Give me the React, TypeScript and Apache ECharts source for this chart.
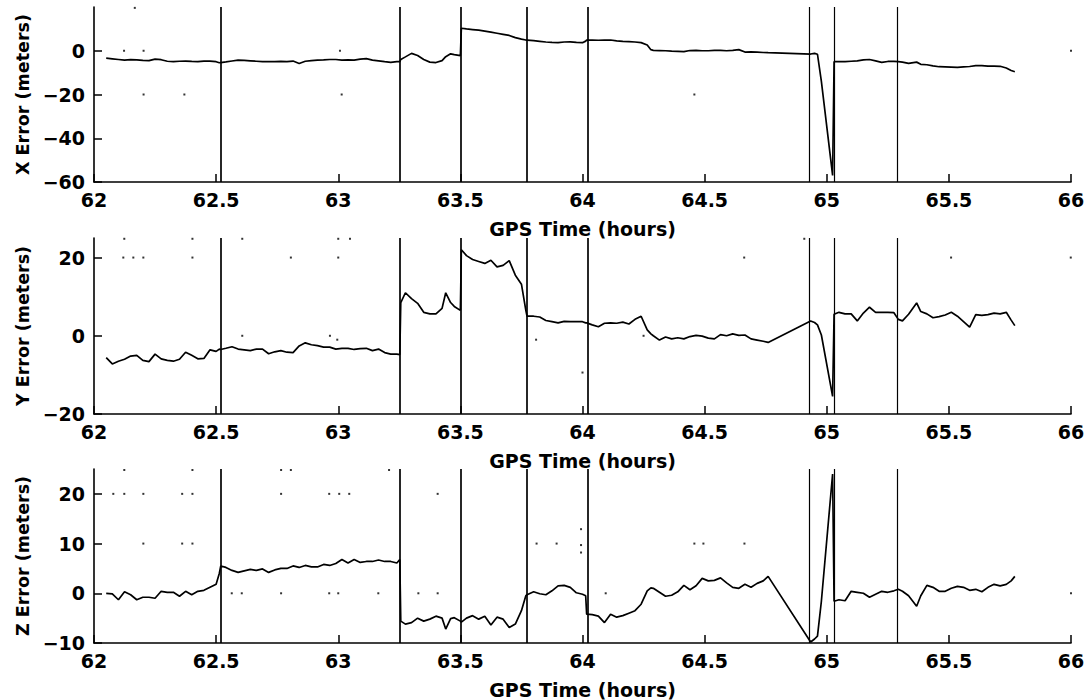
import React, { useEffect, useRef } from 'react';
import * as echarts from 'echarts';

// GPS time samples (hours)
const hours = [
  62.050, 62.075, 62.100, 62.125, 62.150, 62.175, 62.200, 62.225, 62.250, 62.275,
  62.300, 62.325, 62.350, 62.375, 62.400, 62.425, 62.450, 62.475, 62.500, 62.513,
  62.519, 62.540, 62.565, 62.590, 62.615, 62.640, 62.665, 62.690, 62.715, 62.740,
  62.765, 62.790, 62.815, 62.840, 62.865, 62.890, 62.915, 62.940, 62.965, 62.990,
  63.015, 63.040, 63.065, 63.090, 63.115, 63.140, 63.165, 63.190, 63.215, 63.240, 63.252,
  63.256, 63.275, 63.300, 63.325, 63.350, 63.375, 63.400, 63.425, 63.440, 63.460, 63.475, 63.500,
  63.504, 63.525, 63.550, 63.575, 63.600, 63.625, 63.650, 63.675, 63.700, 63.725, 63.750, 63.768,
  63.773, 63.800, 63.825, 63.850, 63.875, 63.900, 63.925, 63.950, 63.975, 64.000, 64.013,
  64.017, 64.040, 64.065, 64.090, 64.115, 64.140, 64.165, 64.190, 64.215, 64.240,
  64.265, 64.280, 64.290, 64.315, 64.340, 64.365, 64.390, 64.415, 64.440, 64.465,
  64.490, 64.515, 64.540, 64.565, 64.590, 64.615, 64.640, 64.665, 64.690, 64.715, 64.740, 64.760,
  64.934, 64.950, 64.962, 64.978, 65.024,
  65.030, 65.050, 65.075, 65.100, 65.125, 65.150, 65.175, 65.200, 65.225, 65.250,
  65.275, 65.293, 65.310, 65.335, 65.368, 65.385, 65.410, 65.435, 65.460, 65.485,
  65.510, 65.535, 65.560, 65.585, 65.610, 65.635, 65.660, 65.685, 65.710, 65.735, 65.755, 65.770,
];

const xError = [
  -3.4, -3.7, -4.0, -4.3, -4.1, -4.2, -4.4, -4.5, -3.8, -4.1,
  -4.8, -5.0, -4.8, -4.7, -4.9, -5.0, -4.7, -4.7, -5.0, -5.5,
  -5.4, -5.1, -4.7, -4.3, -4.4, -4.6, -4.8, -5.0, -5.0, -5.0,
  -4.9, -5.0, -4.7, -5.8, -4.8, -4.5, -4.3, -4.2, -4.0, -4.0,
  -4.3, -4.2, -4.3, -3.8, -3.6, -4.3, -4.6, -5.0, -5.3, -5.0, -5.0,
  -4.0, -2.8, -1.2, -2.2, -4.0, -5.2, -5.4, -4.5, -2.7, -1.4, -1.8, -2.2,
  10.3, 10.0, 9.7, 9.4, 9.0, 8.5, 8.0, 7.5, 7.0, 6.0, 5.3, 4.9,
  4.9, 4.6, 4.3, 4.0, 3.8, 3.7, 4.0, 4.1, 3.8, 3.7, 4.4,
  4.9, 4.9, 4.8, 4.9, 4.9, 4.5, 4.3, 4.2, 4.0, 3.7,
  2.6, 0.5, 0.2, 0.1, 0.0, -0.2, -0.3, -0.4, 0.1, 0.2,
  0.0, 0.0, 0.2, 0.2, 0.0, 0.2, 0.5, -0.6, -0.5, -0.6, -0.8, -0.9,
  -1.5, -1.2, -1.6, -14.0, -57.0,
  -5.0, -5.0, -5.0, -4.8, -4.6, -4.2, -4.0, -4.6, -5.3, -4.9,
  -4.9, -5.0, -5.2, -5.8, -5.2, -6.2, -6.4, -6.9, -7.3, -7.4,
  -7.5, -7.6, -7.4, -7.2, -6.8, -6.8, -7.0, -7.0, -7.1, -7.9, -9.0, -9.6,
];

const yError = [
  -5.6, -7.2, -6.5, -6.0, -5.2, -5.0, -6.3, -6.6, -4.7, -5.9,
  -6.3, -6.5, -6.0, -4.2, -5.0, -5.9, -5.8, -3.6, -4.0, -3.4,
  -3.5, -3.2, -2.8, -3.4, -3.6, -3.8, -3.4, -3.4, -4.6, -4.1,
  -3.8, -4.2, -4.3, -2.6, -1.8, -2.3, -2.5, -2.9, -2.9, -3.4,
  -3.2, -3.2, -3.5, -3.3, -3.2, -3.8, -3.4, -4.3, -4.7, -4.7, -4.8,
  8.5, 11.0, 9.5, 8.3, 6.0, 5.6, 5.6, 7.0, 11.0, 8.5, 7.5, 6.5,
  22.0, 20.5, 19.5, 19.0, 18.5, 19.3, 17.6, 18.0, 19.2, 15.5, 13.2, 6.5,
  5.0, 5.0, 4.8, 3.9, 3.6, 3.3, 3.7, 3.6, 3.6, 3.6, 3.3,
  3.3, 2.8, 2.3, 3.2, 3.3, 3.2, 3.5, 3.0, 4.2, 5.0,
  1.5, 0.5, 0.0, -1.1, -0.3, -0.8, -0.5, -0.8, -0.2, 0.1,
  -0.1, -0.6, -0.8, 0.3, 0.0, 0.5, 0.1, 0.2, -0.8, -1.1, -1.4, -1.7,
  3.8, 3.4, 2.8, 0.2, -15.5,
  5.5, 6.0, 5.6, 5.6, 3.8, 5.8, 7.3, 6.0, 6.0, 6.0,
  5.9, 4.2, 3.8, 5.5, 8.4, 6.2, 5.6, 4.6, 4.9, 5.3,
  6.0, 5.0, 3.6, 2.2, 5.4, 5.2, 5.4, 5.8, 5.6, 6.0, 4.0, 2.6,
];

const zError = [
  0.0, -0.1, -1.3, 0.3, -0.3, -1.3, -0.8, -0.8, -1.0, 0.4,
  0.2, 0.2, -0.6, 0.4, -0.3, 0.4, 0.6, 1.2, 1.8, 4.0,
  5.5, 5.2, 4.6, 4.2, 4.5, 4.8, 4.6, 4.9, 4.2, 4.7,
  5.0, 5.0, 5.5, 5.2, 5.6, 5.3, 5.3, 5.8, 5.6, 6.0,
  6.8, 6.1, 6.8, 6.2, 6.4, 6.4, 6.7, 6.4, 6.4, 6.1, 6.8,
  -5.6, -6.2, -5.9, -5.0, -5.6, -5.2, -4.6, -5.0, -7.2, -5.1, -4.9, -5.6,
  -5.8, -5.0, -4.5, -5.2, -4.6, -6.4, -4.8, -5.2, -6.9, -6.2, -3.5, -0.5,
  -0.3, 0.3, -0.1, -0.3, 0.5, 1.5, 1.6, 1.2, 0.1, -0.2, -0.5,
  -4.2, -4.3, -4.6, -5.9, -4.2, -4.8, -4.5, -4.0, -3.5, -2.2,
  0.5, 1.1, 1.0, 0.2, -0.6, -0.4, 0.3, 1.6, 0.7, 1.5,
  3.0, 2.5, 2.6, 3.1, 2.1, 1.2, 1.0, 1.8, 1.2, 2.0, 2.5, 3.4,
  -9.8, -9.2, -8.6, -1.6, 24.0,
  -1.6, -1.3, -1.5, 0.4, 0.2, 0.0, -0.8, -0.2, 0.4, 0.2,
  0.5, 0.8, 0.4, -0.5, -2.6, -0.5, 1.6, 1.2, 0.4, 0.4,
  1.0, 1.4, 1.2, 0.6, 0.8, 0.3, 1.2, 1.8, 1.5, 1.8, 2.5, 3.4,
];

// Isolated single-sample points
const xDots = [
  [62.123, 0], [62.167, 19.6], [62.203, 0], [62.203, -20], [62.37, -20],
  [63.007, 0], [63.014, -20], [64.458, -20], [66.0, 0],
];
const yDots = [
  [62.124, 24.8], [62.403, 24.8], [62.12, 20], [62.161, 20], [62.202, 20], [62.403, 20],
  [62.607, 24.8], [62.806, 20], [63.0, 24.8], [63.048, 24.8], [63.0, 20], [62.607, 0],
  [62.966, 0], [62.996, -1], [64.662, 20], [63.81, -1], [64.0, -9.4], [64.25, 0],
  [65.509, 20], [65.999, 20], [64.908, 24.8],
];
const zDots = [
  [62.124, 24.8], [62.403, 24.8], [62.766, 24.8], [62.806, 24.8], [63.208, 24.8],
  [62.079, 20], [62.124, 20], [62.202, 20], [62.361, 20], [62.403, 20], [62.766, 20],
  [62.963, 20], [63.004, 20], [63.045, 20], [63.407, 20],
  [62.202, 10], [62.361, 10], [62.403, 10], [63.812, 10], [63.894, 10], [64.458, 10],
  [64.495, 10], [64.663, 10], [63.994, 12.9], [63.994, 9.7], [63.994, 8.2],
  [62.564, 0], [62.605, 0], [62.766, 0], [62.963, 0], [63.0, 0], [63.164, 0],
  [63.328, 0], [63.407, 0], [64.095, 0], [66.0, 0],
];

// Event markers (vertical lines), hours
const eventHours = [62.516, 63.254, 63.502, 63.771, 64.015, 64.934, 65.027, 65.293];

const xAxisLabel = 'GPS Time (hours)';
const panelNames = ['X Error (meters)', 'Y Error (meters)', 'Z Error (meters)'];
const panelMin = [-60, -20, -10];
const panelMax = [20, 25, 25];
const panelTicks = [[-60, -40, -20, 0], [-20, 0, 20], [-10, 0, 10, 20]];
const timeMin = 62;
const timeMax = 66;
const timeStep = 0.5;

const FONT = 'DejaVu Sans';

export default function App() {
  const ref = useRef<HTMLDivElement>(null);

  useEffect(() => {
    if (!ref.current) return;
    const chart = echarts.init(ref.current, undefined, { renderer: 'svg' });
    const values = [xError, yError, zError];
    const dots = [xDots, yDots, zDots];
    const grids = [
      { left: 94, width: 977, top: 7, height: 175 },
      { left: 94, width: 977, top: 238, height: 176 },
      { left: 94, width: 977, top: 469, height: 174 },
    ];
    const black = '#000';

    const option: any = {
      animation: false,
      backgroundColor: '#fff',
      grid: grids,
      xAxis: grids.map((_, i) => ({
        type: 'value',
        gridIndex: i,
        min: timeMin,
        max: timeMax,
        interval: timeStep,
        name: xAxisLabel,
        nameLocation: 'middle',
        nameGap: 37,
        nameTextStyle: { fontFamily: FONT, fontSize: 19, fontWeight: 'bold', color: black },
        axisLine: { show: true, onZero: false, lineStyle: { color: black, width: 1.6 } },
        axisTick: { show: true, inside: true, length: 8, lineStyle: { color: black, width: 1.5 } },
        axisLabel: { fontFamily: FONT, fontSize: 19, fontWeight: 'bold', color: black, margin: 8 },
        splitLine: { show: false },
      })),
      yAxis: grids.map((_, i) => ({
        type: 'value',
        gridIndex: i,
        min: panelMin[i],
        max: panelMax[i],
        name: panelNames[i],
        nameLocation: 'middle',
        nameGap: 52,
        nameTextStyle: { fontFamily: FONT, fontSize: 17.5, fontWeight: 'bold', color: black },
        axisLine: { show: true, onZero: false, lineStyle: { color: black, width: 1.6 } },
        axisTick: {
          show: true, inside: true, length: 8, customValues: panelTicks[i],
          lineStyle: { color: black, width: 1.5 },
        },
        axisLabel: {
          customValues: panelTicks[i],
          fontFamily: FONT, fontSize: 19, fontWeight: 'bold', color: black, margin: 9,
          formatter: (v: number) => String(v).replace('-', '\u2212'),
        },
        splitLine: { show: false },
      })),
      series: [
        ...values.map((vals, i) => ({
          type: 'line',
          xAxisIndex: i,
          yAxisIndex: i,
          data: hours.map((h, k) => [h, vals[k]]),
          showSymbol: false,
          symbol: 'none',
          lineStyle: { color: black, width: 1.7 },
          silent: true,
          markLine: {
            silent: true,
            symbol: ['none', 'none'],
            label: { show: false },
            lineStyle: { color: black, type: 'solid', width: 1.4 },
            data: eventHours.map((h, k) => ({
              xAxis: h,
              lineStyle: { color: black, type: 'solid', width: k < 5 ? 1.7 : 1.2 },
            })),
          },
        })),
        ...dots.map((d, i) => ({
          type: 'scatter',
          xAxisIndex: i,
          yAxisIndex: i,
          data: d,
          symbol: 'rect',
          symbolSize: 2,
          itemStyle: { color: black },
          silent: true,
        })),
      ],
    };
    chart.setOption(option);
    return () => chart.dispose();
  }, []);

  return (
    <div
      ref={ref}
      style={{ position: 'fixed', left: 0, top: 0, width: 1091, height: 700, background: '#fff' }}
    />
  );
}
